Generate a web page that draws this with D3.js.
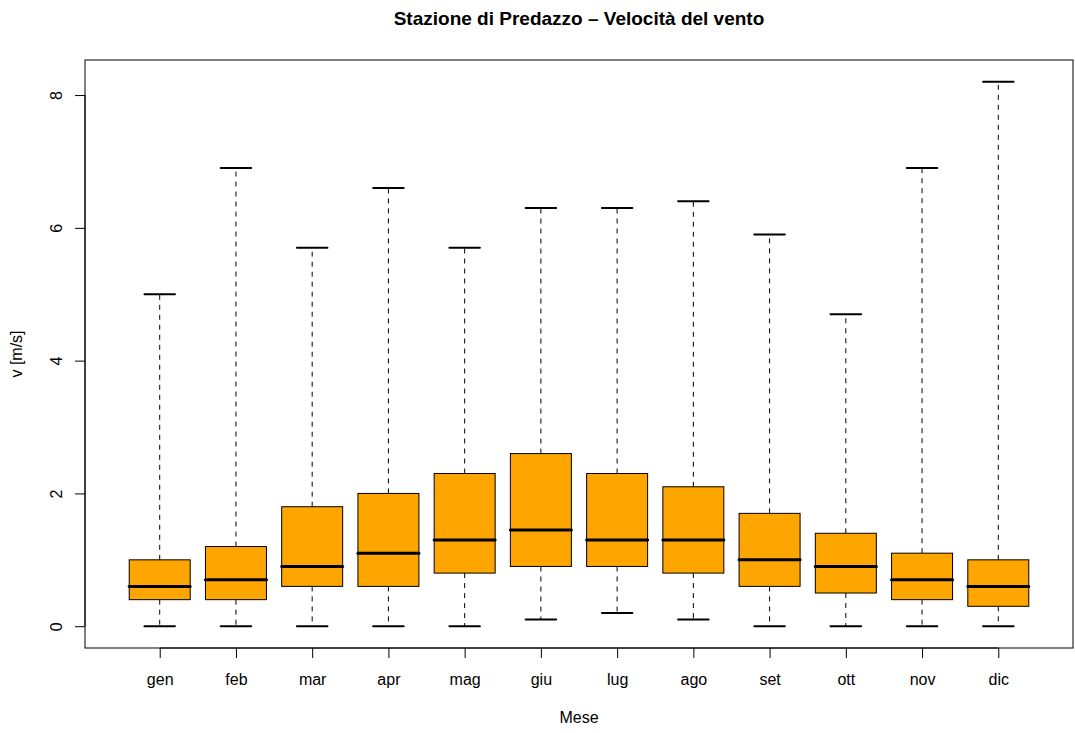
<!DOCTYPE html>
<html>
<head>
<meta charset="utf-8">
<script src="https://cdn.jsdelivr.net/npm/d3@7.9.0/dist/d3.min.js"></script>
<style>
  body { margin: 0; background: #fff; }
  svg { font-family: "Liberation Sans", Arial, Helvetica, sans-serif; }
</style>
</head>
<body>
<div id="chart"></div>
<script>
const months = ["gen", "feb", "mar", "apr", "mag", "giu", "lug", "ago", "set", "ott", "nov", "dic"];
const mins    = [0, 0, 0, 0, 0, 0.1, 0.2, 0.1, 0, 0, 0, 0];
const q1s     = [0.4, 0.4, 0.6, 0.6, 0.8, 0.9, 0.9, 0.8, 0.6, 0.5, 0.4, 0.3];
const medians = [0.6, 0.7, 0.9, 1.1, 1.3, 1.45, 1.3, 1.3, 1.0, 0.9, 0.7, 0.6];
const q3s     = [1.0, 1.2, 1.8, 2.0, 2.3, 2.6, 2.3, 2.1, 1.7, 1.4, 1.1, 1.0];
const maxs    = [5.0, 6.9, 5.7, 6.6, 5.7, 6.3, 6.3, 6.4, 5.9, 4.7, 6.9, 8.2];
const yTicks  = [0, 2, 4, 6, 8];

const data = months.map((m, i) => ({
  month: m, min: mins[i], q1: q1s[i], median: medians[i], q3: q3s[i], max: maxs[i]
}));

const width = 1075;
const height = 733;
const plot = { left: 85, right: 1073, top: 60, bottom: 648 };

const svg = d3.select("#chart")
  .append("svg")
  .attr("width", width)
  .attr("height", height);

// R style: x positions 1..12, 4% extension of the range
const x = d3.scalePoint()
  .domain(months)
  .range([plot.left, plot.right])
  .padding(0.98);

const step = x.step();
const boxW = step * 0.8;

const lo = d3.min(data, d => d.min);
const hi = d3.max(data, d => d.max);
const pad = (hi - lo) * 0.04;

const y = d3.scaleLinear()
  .domain([lo - pad, hi + pad])
  .range([plot.bottom, plot.top]);

// boxes
const g = svg.append("g").attr("class", "boxes");

const box = g.selectAll("g.box")
  .data(data)
  .join("g")
  .attr("class", "box")
  .attr("transform", d => `translate(${x(d.month)},0)`);

// whiskers (dashed)
box.append("line")
  .attr("x1", 0).attr("x2", 0)
  .attr("y1", d => y(d.q3)).attr("y2", d => y(d.max))
  .attr("stroke", "#000")
  .attr("stroke-dasharray", "5,5");

box.append("line")
  .attr("x1", 0).attr("x2", 0)
  .attr("y1", d => y(d.q1)).attr("y2", d => y(d.min))
  .attr("stroke", "#000")
  .attr("stroke-dasharray", "5,5");

// staples
box.selectAll("line.staple")
  .data(d => [d.min, d.max])
  .join("line")
  .attr("class", "staple")
  .attr("x1", -boxW / 4).attr("x2", boxW / 4)
  .attr("y1", v => y(v)).attr("y2", v => y(v))
  .attr("stroke", "#000")
  .attr("stroke-width", 2)
  .attr("stroke-linecap", "round");

box.append("rect")
  .attr("x", -boxW / 2)
  .attr("width", boxW)
  .attr("y", d => y(d.q3))
  .attr("height", d => y(d.q1) - y(d.q3))
  .attr("fill", "#FFA500")
  .attr("stroke", "#000")
  .attr("stroke-width", 1);

box.append("line")
  .attr("x1", -boxW / 2).attr("x2", boxW / 2)
  .attr("y1", d => y(d.median)).attr("y2", d => y(d.median))
  .attr("stroke", "#000")
  .attr("stroke-width", 3)
  .attr("stroke-linecap", "round");

// frame
svg.append("rect")
  .attr("x", plot.left)
  .attr("y", plot.top)
  .attr("width", plot.right - plot.left)
  .attr("height", plot.bottom - plot.top)
  .attr("fill", "none")
  .attr("stroke", "#000");

// x axis
const xAxis = svg.append("g")
  .attr("transform", `translate(0,${plot.bottom})`)
  .call(d3.axisBottom(x).tickSize(10).tickSizeOuter(0));

xAxis.select(".domain")
  .attr("d", `M${x(months[0])},0H${x(months[months.length - 1])}`);

xAxis.selectAll("text")
  .attr("y", 37)
  .attr("dy", 0)
  .attr("fill", "#000")
  .style("font-size", "16px")
  .style("font-family", "Liberation Sans, Arial, sans-serif");

// y axis
const yAxis = svg.append("g")
  .attr("transform", `translate(${plot.left},0)`)
  .call(d3.axisLeft(y).tickValues(yTicks).tickSize(10).tickSizeOuter(0));

yAxis.select(".domain")
  .attr("d", `M0,${y(yTicks[0])}V${y(yTicks[yTicks.length - 1])}`);

yAxis.selectAll("text")
  .attr("x", 0)
  .attr("y", -23)
  .attr("dy", 0)
  .attr("transform", "rotate(-90)")
  .attr("text-anchor", "middle")
  .attr("fill", "#000")
  .style("font-size", "16px")
  .style("font-family", "Liberation Sans, Arial, sans-serif");

// titles
const cx = (plot.left + plot.right) / 2;
const cy = (plot.top + plot.bottom) / 2;

svg.append("text")
  .attr("x", cx)
  .attr("y", 25)
  .attr("text-anchor", "middle")
  .style("font-size", "19px")
  .style("font-weight", "bold")
  .text("Stazione di Predazzo – Velocità del vento");

svg.append("text")
  .attr("x", cx)
  .attr("y", 723)
  .attr("text-anchor", "middle")
  .style("font-size", "16px")
  .text("Mese");

svg.append("text")
  .attr("transform", `translate(22,${cy}) rotate(-90)`)
  .attr("text-anchor", "middle")
  .style("font-size", "16px")
  .text("v [m/s]");
</script>
</body>
</html>
